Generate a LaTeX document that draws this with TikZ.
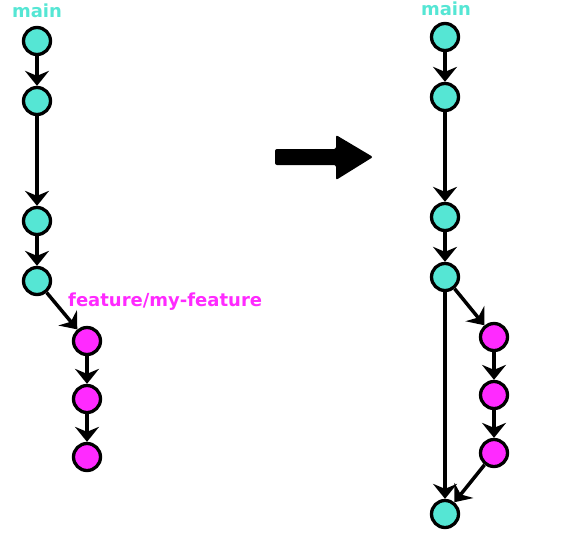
\documentclass[tikz,border=0pt]{standalone}
\usepackage{fontspec}
\setmainfont{DejaVu Sans}
\usetikzlibrary{arrows.meta}
\definecolor{maincol}{RGB}{85,230,212}
\definecolor{featcol}{RGB}{255,42,255}

\begin{document}
\begin{tikzpicture}[x=1pt,y=-1pt,
	commit/.style={circle,draw=black,line width=3.3pt,minimum size=27pt,inner sep=0pt},
	maincommit/.style={commit,fill=maincol},
	featcommit/.style={commit,fill=featcol},
	edge/.style={draw,line width=3.5pt,-{Stealth[length=15pt,width=24pt,inset=5pt]}},
	branch/.style={font=\bfseries\fontsize{18}{20}\selectfont,inner sep=0pt}]
			\useasboundingbox (0,0) rectangle (580,544);

			% before
			\node[branch,text=maincol] (lmain) at (37,11) {main};
			\node[maincommit] (lm1) at (37,41) {};
			\node[maincommit] (lm2) at (37,101) {};
			\node[maincommit] (lm3) at (37,221) {};
			\node[maincommit] (lm4) at (37,281) {};
			\node[branch,text=featcol,anchor=west] (lfeat) at (68,302) {feature/my-feature};
			\node[featcommit] (lf1) at (87,341) {};
			\node[featcommit] (lf2) at (87,399) {};
			\node[featcommit] (lf3) at (87,457) {};

			\draw[edge] (lm1) -- (lm2);
			\draw[edge] (lm2) -- (lm3);
			\draw[edge] (lm3) -- (lm4);
			\draw[edge] (lm4) -- (lf1);
			\draw[edge] (lf1) -- (lf2);
			\draw[edge] (lf2) -- (lf3);

			% big arrow
			\fill[rounded corners=2pt] (275,149) -- (336,149) -- (336,135) -- (373,157)
				-- (336,180) -- (336,165) -- (275,165) -- cycle;

			% after
			\node[branch,text=maincol] (rmain) at (446,9) {main};
			\node[maincommit] (rm1) at (445,37) {};
			\node[maincommit] (rm2) at (445,97) {};
			\node[maincommit] (rm3) at (445,217) {};
			\node[maincommit] (rm4) at (445,277) {};
			\node[featcommit] (rf1) at (494,337) {};
			\node[featcommit] (rf2) at (494,395) {};
			\node[featcommit] (rf3) at (494,453) {};
			\node[maincommit] (rm5) at (445,514) {};

			\draw[edge] (rm1) -- (rm2);
			\draw[edge] (rm2) -- (rm3);
			\draw[edge] (rm3) -- (rm4);
			\draw[edge] (rm4) -- (rf1);
			\draw[edge] (rf1) -- (rf2);
			\draw[edge] (rf2) -- (rf3);
			\draw[edge] (rm4) -- (rm5);
			\draw[edge] (rf3) -- (rm5);
\end{tikzpicture}
\end{document}
